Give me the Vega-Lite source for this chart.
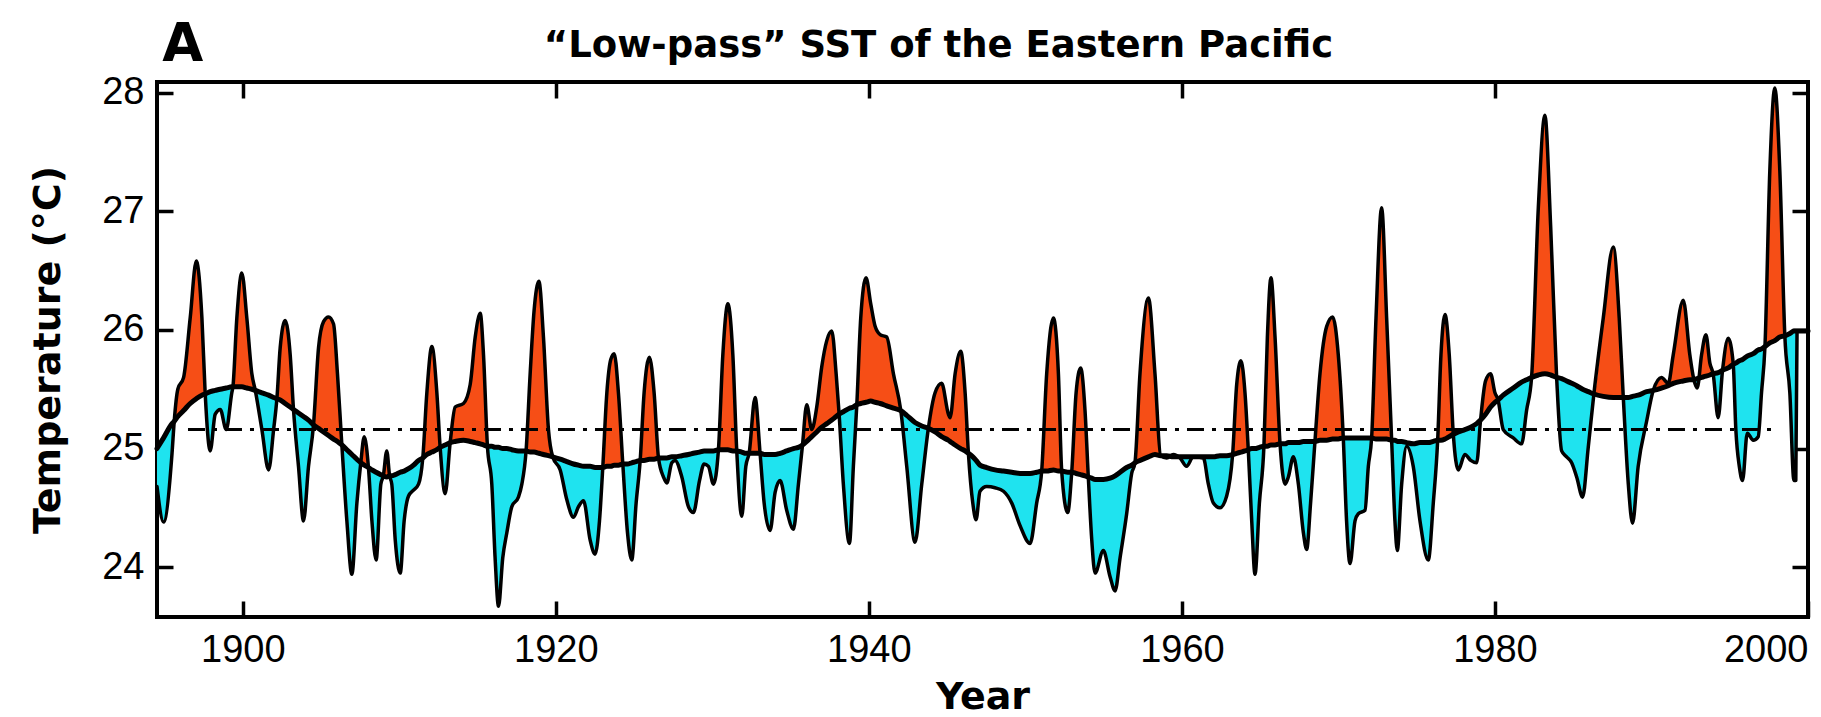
{
  "$schema": "https://vega.github.io/schema/vega-lite/v6.json",
  "width": 1651,
  "height": 535,
  "autosize": {"type": "none"},
  "padding": {"left": 157, "top": 82, "right": 13, "bottom": 100},
  "background": "white",
  "config": {
    "view": {"stroke": "black", "strokeWidth": 4},
    "font": "Liberation Sans"
  },
  "title": {
    "text": "“Low-pass” SST of the Eastern Pacific",
    "font": "DejaVu Sans",
    "fontSize": 37,
    "fontWeight": "bold",
    "color": "black",
    "anchor": "middle",
    "dx": -44,
    "baseline": "alphabetic",
    "offset": -75
  },
  "datasets": {
    "sst": [
      {"year": 1894.52, "sst": 24.68, "lowpass": 25.00},
      {"year": 1894.94, "sst": 24.38, "lowpass": 25.09},
      {"year": 1895.48, "sst": 24.96, "lowpass": 25.21},
      {"year": 1895.62, "sst": 25.23, "lowpass": 25.23},
      {"year": 1895.85, "sst": 25.50, "lowpass": 25.27},
      {"year": 1896.22, "sst": 25.60, "lowpass": 25.32},
      {"year": 1896.64, "sst": 26.10, "lowpass": 25.38},
      {"year": 1897.03, "sst": 26.58, "lowpass": 25.42},
      {"year": 1897.39, "sst": 26.10, "lowpass": 25.45},
      {"year": 1897.60, "sst": 25.46, "lowpass": 25.46},
      {"year": 1897.92, "sst": 24.98, "lowpass": 25.48},
      {"year": 1898.24, "sst": 25.29, "lowpass": 25.49},
      {"year": 1898.56, "sst": 25.33, "lowpass": 25.50},
      {"year": 1898.94, "sst": 25.16, "lowpass": 25.51},
      {"year": 1899.30, "sst": 25.47, "lowpass": 25.52},
      {"year": 1899.37, "sst": 25.52, "lowpass": 25.52},
      {"year": 1899.62, "sst": 26.10, "lowpass": 25.52},
      {"year": 1899.94, "sst": 26.48, "lowpass": 25.52},
      {"year": 1900.26, "sst": 26.10, "lowpass": 25.51},
      {"year": 1900.58, "sst": 25.63, "lowpass": 25.50},
      {"year": 1900.80, "sst": 25.49, "lowpass": 25.49},
      {"year": 1901.22, "sst": 25.16, "lowpass": 25.47},
      {"year": 1901.65, "sst": 24.82, "lowpass": 25.45},
      {"year": 1901.97, "sst": 25.16, "lowpass": 25.43},
      {"year": 1902.18, "sst": 25.42, "lowpass": 25.42},
      {"year": 1902.39, "sst": 25.85, "lowpass": 25.41},
      {"year": 1902.71, "sst": 26.08, "lowpass": 25.38},
      {"year": 1903.03, "sst": 25.79, "lowpass": 25.35},
      {"year": 1903.24, "sst": 25.33, "lowpass": 25.33},
      {"year": 1903.56, "sst": 24.85, "lowpass": 25.30},
      {"year": 1903.88, "sst": 24.39, "lowpass": 25.27},
      {"year": 1904.20, "sst": 24.85, "lowpass": 25.24},
      {"year": 1904.52, "sst": 25.20, "lowpass": 25.20},
      {"year": 1904.84, "sst": 25.85, "lowpass": 25.17},
      {"year": 1905.16, "sst": 26.07, "lowpass": 25.14},
      {"year": 1905.48, "sst": 26.11, "lowpass": 25.11},
      {"year": 1905.80, "sst": 26.05, "lowpass": 25.08},
      {"year": 1906.05, "sst": 25.63, "lowpass": 25.06},
      {"year": 1906.33, "sst": 25.03, "lowpass": 25.03},
      {"year": 1906.65, "sst": 24.39, "lowpass": 24.99},
      {"year": 1906.97, "sst": 23.94, "lowpass": 24.95},
      {"year": 1907.29, "sst": 24.54, "lowpass": 24.91},
      {"year": 1907.54, "sst": 24.88, "lowpass": 24.88},
      {"year": 1907.76, "sst": 25.10, "lowpass": 24.86},
      {"year": 1908.03, "sst": 24.84, "lowpass": 24.84},
      {"year": 1908.25, "sst": 24.39, "lowpass": 24.82},
      {"year": 1908.52, "sst": 24.06, "lowpass": 24.80},
      {"year": 1908.82, "sst": 24.70, "lowpass": 24.78},
      {"year": 1908.98, "sst": 24.77, "lowpass": 24.77},
      {"year": 1909.20, "sst": 24.98, "lowpass": 24.76},
      {"year": 1909.38, "sst": 24.77, "lowpass": 24.77},
      {"year": 1909.52, "sst": 24.70, "lowpass": 24.77},
      {"year": 1909.74, "sst": 24.23, "lowpass": 24.78},
      {"year": 1910.06, "sst": 23.95, "lowpass": 24.80},
      {"year": 1910.31, "sst": 24.39, "lowpass": 24.81},
      {"year": 1910.59, "sst": 24.60, "lowpass": 24.83},
      {"year": 1910.91, "sst": 24.65, "lowpass": 24.86},
      {"year": 1911.23, "sst": 24.70, "lowpass": 24.90},
      {"year": 1911.50, "sst": 24.92, "lowpass": 24.92},
      {"year": 1911.76, "sst": 25.47, "lowpass": 24.95},
      {"year": 1912.08, "sst": 25.86, "lowpass": 24.97},
      {"year": 1912.40, "sst": 25.47, "lowpass": 24.99},
      {"year": 1912.61, "sst": 25.01, "lowpass": 25.01},
      {"year": 1912.93, "sst": 24.62, "lowpass": 25.03},
      {"year": 1913.25, "sst": 25.05, "lowpass": 25.05},
      {"year": 1913.57, "sst": 25.35, "lowpass": 25.06},
      {"year": 1914.10, "sst": 25.38, "lowpass": 25.07},
      {"year": 1914.53, "sst": 25.54, "lowpass": 25.06},
      {"year": 1914.85, "sst": 25.94, "lowpass": 25.05},
      {"year": 1915.17, "sst": 26.14, "lowpass": 25.04},
      {"year": 1915.38, "sst": 25.79, "lowpass": 25.03},
      {"year": 1915.63, "sst": 25.02, "lowpass": 25.02},
      {"year": 1915.91, "sst": 24.70, "lowpass": 25.02},
      {"year": 1916.12, "sst": 24.08, "lowpass": 25.01},
      {"year": 1916.34, "sst": 23.67, "lowpass": 25.01},
      {"year": 1916.61, "sst": 24.08, "lowpass": 25.00},
      {"year": 1916.87, "sst": 24.29, "lowpass": 25.00},
      {"year": 1917.19, "sst": 24.51, "lowpass": 24.99},
      {"year": 1917.61, "sst": 24.59, "lowpass": 24.98},
      {"year": 1917.83, "sst": 24.70, "lowpass": 24.98},
      {"year": 1918.10, "sst": 24.98, "lowpass": 24.98},
      {"year": 1918.36, "sst": 25.63, "lowpass": 24.97},
      {"year": 1918.61, "sst": 26.16, "lowpass": 24.97},
      {"year": 1918.92, "sst": 26.41, "lowpass": 24.96},
      {"year": 1919.21, "sst": 25.94, "lowpass": 24.95},
      {"year": 1919.53, "sst": 25.16, "lowpass": 24.94},
      {"year": 1919.80, "sst": 24.93, "lowpass": 24.93},
      {"year": 1920.28, "sst": 24.82, "lowpass": 24.91},
      {"year": 1920.70, "sst": 24.57, "lowpass": 24.89},
      {"year": 1921.13, "sst": 24.42, "lowpass": 24.87},
      {"year": 1921.45, "sst": 24.51, "lowpass": 24.86},
      {"year": 1921.77, "sst": 24.56, "lowpass": 24.85},
      {"year": 1922.19, "sst": 24.23, "lowpass": 24.85},
      {"year": 1922.51, "sst": 24.11, "lowpass": 24.84},
      {"year": 1922.79, "sst": 24.39, "lowpass": 24.84},
      {"year": 1923.00, "sst": 24.84, "lowpass": 24.84},
      {"year": 1923.26, "sst": 25.47, "lowpass": 24.85},
      {"year": 1923.51, "sst": 25.75, "lowpass": 24.85},
      {"year": 1923.73, "sst": 25.80, "lowpass": 24.86},
      {"year": 1924.00, "sst": 25.47, "lowpass": 24.86},
      {"year": 1924.28, "sst": 24.87, "lowpass": 24.87},
      {"year": 1924.58, "sst": 24.29, "lowpass": 24.87},
      {"year": 1924.85, "sst": 24.06, "lowpass": 24.88},
      {"year": 1925.13, "sst": 24.54, "lowpass": 24.89},
      {"year": 1925.39, "sst": 24.90, "lowpass": 24.90},
      {"year": 1925.64, "sst": 25.47, "lowpass": 24.90},
      {"year": 1925.98, "sst": 25.77, "lowpass": 24.91},
      {"year": 1926.28, "sst": 25.47, "lowpass": 24.91},
      {"year": 1926.56, "sst": 24.92, "lowpass": 24.92},
      {"year": 1926.88, "sst": 24.76, "lowpass": 24.92},
      {"year": 1927.09, "sst": 24.71, "lowpass": 24.92},
      {"year": 1927.41, "sst": 24.88, "lowpass": 24.93},
      {"year": 1927.62, "sst": 24.90, "lowpass": 24.93},
      {"year": 1928.05, "sst": 24.76, "lowpass": 24.94},
      {"year": 1928.47, "sst": 24.51, "lowpass": 24.95},
      {"year": 1928.79, "sst": 24.46, "lowpass": 24.96},
      {"year": 1929.18, "sst": 24.73, "lowpass": 24.97},
      {"year": 1929.47, "sst": 24.87, "lowpass": 24.98},
      {"year": 1929.75, "sst": 24.85, "lowpass": 24.98},
      {"year": 1930.07, "sst": 24.70, "lowpass": 24.98},
      {"year": 1930.39, "sst": 24.99, "lowpass": 24.99},
      {"year": 1930.67, "sst": 25.79, "lowpass": 24.99},
      {"year": 1930.99, "sst": 26.22, "lowpass": 24.99},
      {"year": 1931.31, "sst": 25.79, "lowpass": 24.98},
      {"year": 1931.56, "sst": 24.98, "lowpass": 24.98},
      {"year": 1931.88, "sst": 24.43, "lowpass": 24.97},
      {"year": 1932.14, "sst": 24.85, "lowpass": 24.96},
      {"year": 1932.35, "sst": 24.96, "lowpass": 24.96},
      {"year": 1932.73, "sst": 25.43, "lowpass": 24.96},
      {"year": 1933.05, "sst": 24.96, "lowpass": 24.96},
      {"year": 1933.31, "sst": 24.54, "lowpass": 24.95},
      {"year": 1933.69, "sst": 24.31, "lowpass": 24.95},
      {"year": 1934.01, "sst": 24.63, "lowpass": 24.95},
      {"year": 1934.33, "sst": 24.73, "lowpass": 24.96},
      {"year": 1934.75, "sst": 24.48, "lowpass": 24.98},
      {"year": 1935.18, "sst": 24.32, "lowpass": 25.00},
      {"year": 1935.50, "sst": 24.70, "lowpass": 25.01},
      {"year": 1935.76, "sst": 25.03, "lowpass": 25.03},
      {"year": 1936.03, "sst": 25.37, "lowpass": 25.06},
      {"year": 1936.35, "sst": 25.16, "lowpass": 25.10},
      {"year": 1936.67, "sst": 25.35, "lowpass": 25.14},
      {"year": 1936.99, "sst": 25.69, "lowpass": 25.18},
      {"year": 1937.31, "sst": 25.91, "lowpass": 25.21},
      {"year": 1937.63, "sst": 25.99, "lowpass": 25.24},
      {"year": 1937.91, "sst": 25.63, "lowpass": 25.27},
      {"year": 1938.10, "sst": 25.29, "lowpass": 25.29},
      {"year": 1938.37, "sst": 24.70, "lowpass": 25.31},
      {"year": 1938.76, "sst": 24.20, "lowpass": 25.34},
      {"year": 1939.01, "sst": 24.85, "lowpass": 25.35},
      {"year": 1939.23, "sst": 25.37, "lowpass": 25.37},
      {"year": 1939.48, "sst": 26.10, "lowpass": 25.38},
      {"year": 1939.82, "sst": 26.44, "lowpass": 25.39},
      {"year": 1940.12, "sst": 26.22, "lowpass": 25.40},
      {"year": 1940.40, "sst": 26.03, "lowpass": 25.39},
      {"year": 1940.72, "sst": 25.96, "lowpass": 25.38},
      {"year": 1941.14, "sst": 25.94, "lowpass": 25.36},
      {"year": 1941.57, "sst": 25.63, "lowpass": 25.34},
      {"year": 1942.04, "sst": 25.32, "lowpass": 25.32},
      {"year": 1942.42, "sst": 24.85, "lowpass": 25.28},
      {"year": 1942.95, "sst": 24.21, "lowpass": 25.22},
      {"year": 1943.38, "sst": 24.70, "lowpass": 25.19},
      {"year": 1943.80, "sst": 25.17, "lowpass": 25.17},
      {"year": 1944.23, "sst": 25.47, "lowpass": 25.14},
      {"year": 1944.65, "sst": 25.55, "lowpass": 25.10},
      {"year": 1945.08, "sst": 25.29, "lowpass": 25.07},
      {"year": 1945.19, "sst": 25.26, "lowpass": 25.06},
      {"year": 1945.51, "sst": 25.63, "lowpass": 25.03},
      {"year": 1945.87, "sst": 25.82, "lowpass": 25.00},
      {"year": 1946.15, "sst": 25.47, "lowpass": 24.98},
      {"year": 1946.36, "sst": 24.96, "lowpass": 24.96},
      {"year": 1946.64, "sst": 24.54, "lowpass": 24.93},
      {"year": 1946.85, "sst": 24.40, "lowpass": 24.90},
      {"year": 1947.10, "sst": 24.64, "lowpass": 24.86},
      {"year": 1947.53, "sst": 24.68, "lowpass": 24.84},
      {"year": 1948.06, "sst": 24.67, "lowpass": 24.82},
      {"year": 1948.60, "sst": 24.64, "lowpass": 24.81},
      {"year": 1949.13, "sst": 24.54, "lowpass": 24.80},
      {"year": 1949.66, "sst": 24.35, "lowpass": 24.79},
      {"year": 1950.30, "sst": 24.20, "lowpass": 24.79},
      {"year": 1950.72, "sst": 24.54, "lowpass": 24.80},
      {"year": 1951.04, "sst": 24.81, "lowpass": 24.81},
      {"year": 1951.36, "sst": 25.63, "lowpass": 24.81},
      {"year": 1951.79, "sst": 26.10, "lowpass": 24.82},
      {"year": 1952.11, "sst": 25.63, "lowpass": 24.81},
      {"year": 1952.32, "sst": 24.81, "lowpass": 24.81},
      {"year": 1952.70, "sst": 24.46, "lowpass": 24.80},
      {"year": 1952.96, "sst": 24.80, "lowpass": 24.80},
      {"year": 1953.24, "sst": 25.47, "lowpass": 24.79},
      {"year": 1953.53, "sst": 25.68, "lowpass": 24.78},
      {"year": 1953.81, "sst": 25.32, "lowpass": 24.77},
      {"year": 1954.02, "sst": 24.76, "lowpass": 24.76},
      {"year": 1954.24, "sst": 24.23, "lowpass": 24.75},
      {"year": 1954.45, "sst": 23.95, "lowpass": 24.74},
      {"year": 1954.98, "sst": 24.14, "lowpass": 24.74},
      {"year": 1955.41, "sst": 23.92, "lowpass": 24.75},
      {"year": 1955.73, "sst": 23.80, "lowpass": 24.77},
      {"year": 1956.05, "sst": 24.08, "lowpass": 24.80},
      {"year": 1956.47, "sst": 24.45, "lowpass": 24.84},
      {"year": 1956.79, "sst": 24.79, "lowpass": 24.86},
      {"year": 1957.00, "sst": 24.88, "lowpass": 24.88},
      {"year": 1957.32, "sst": 25.63, "lowpass": 24.90},
      {"year": 1957.86, "sst": 26.27, "lowpass": 24.93},
      {"year": 1958.28, "sst": 25.63, "lowpass": 24.95},
      {"year": 1958.64, "sst": 24.94, "lowpass": 24.94},
      {"year": 1959.03, "sst": 24.92, "lowpass": 24.94},
      {"year": 1959.45, "sst": 24.95, "lowpass": 24.93},
      {"year": 1959.88, "sst": 24.92, "lowpass": 24.93},
      {"year": 1960.30, "sst": 24.85, "lowpass": 24.93},
      {"year": 1960.73, "sst": 24.93, "lowpass": 24.93},
      {"year": 1961.37, "sst": 24.92, "lowpass": 24.93},
      {"year": 1961.69, "sst": 24.70, "lowpass": 24.93},
      {"year": 1962.01, "sst": 24.54, "lowpass": 24.93},
      {"year": 1962.43, "sst": 24.50, "lowpass": 24.94},
      {"year": 1962.86, "sst": 24.60, "lowpass": 24.94},
      {"year": 1963.24, "sst": 24.95, "lowpass": 24.95},
      {"year": 1963.50, "sst": 25.54, "lowpass": 24.96},
      {"year": 1963.77, "sst": 25.74, "lowpass": 24.97},
      {"year": 1964.03, "sst": 25.47, "lowpass": 24.98},
      {"year": 1964.24, "sst": 24.99, "lowpass": 24.99},
      {"year": 1964.46, "sst": 24.39, "lowpass": 25.00},
      {"year": 1964.67, "sst": 23.94, "lowpass": 25.00},
      {"year": 1964.95, "sst": 24.54, "lowpass": 25.01},
      {"year": 1965.24, "sst": 25.02, "lowpass": 25.02},
      {"year": 1965.46, "sst": 25.94, "lowpass": 25.02},
      {"year": 1965.69, "sst": 26.44, "lowpass": 25.03},
      {"year": 1965.95, "sst": 25.94, "lowpass": 25.03},
      {"year": 1966.27, "sst": 25.04, "lowpass": 25.04},
      {"year": 1966.59, "sst": 24.70, "lowpass": 25.04},
      {"year": 1966.80, "sst": 24.76, "lowpass": 25.05},
      {"year": 1967.12, "sst": 24.93, "lowpass": 25.05},
      {"year": 1967.44, "sst": 24.70, "lowpass": 25.05},
      {"year": 1967.76, "sst": 24.29, "lowpass": 25.06},
      {"year": 1967.97, "sst": 24.15, "lowpass": 25.06},
      {"year": 1968.22, "sst": 24.54, "lowpass": 25.06},
      {"year": 1968.50, "sst": 25.06, "lowpass": 25.06},
      {"year": 1968.82, "sst": 25.63, "lowpass": 25.07},
      {"year": 1969.25, "sst": 26.03, "lowpass": 25.07},
      {"year": 1969.63, "sst": 26.11, "lowpass": 25.08},
      {"year": 1969.99, "sst": 25.79, "lowpass": 25.08},
      {"year": 1970.31, "sst": 25.09, "lowpass": 25.09},
      {"year": 1970.52, "sst": 24.39, "lowpass": 25.09},
      {"year": 1970.74, "sst": 24.03, "lowpass": 25.09},
      {"year": 1971.06, "sst": 24.39, "lowpass": 25.09},
      {"year": 1971.27, "sst": 24.45, "lowpass": 25.09},
      {"year": 1971.70, "sst": 24.48, "lowpass": 25.09},
      {"year": 1971.91, "sst": 24.85, "lowpass": 25.09},
      {"year": 1972.12, "sst": 25.09, "lowpass": 25.09},
      {"year": 1972.40, "sst": 26.10, "lowpass": 25.08},
      {"year": 1972.76, "sst": 27.03, "lowpass": 25.08},
      {"year": 1973.08, "sst": 26.10, "lowpass": 25.08},
      {"year": 1973.40, "sst": 25.07, "lowpass": 25.07},
      {"year": 1973.61, "sst": 24.39, "lowpass": 25.07},
      {"year": 1973.76, "sst": 24.14, "lowpass": 25.06},
      {"year": 1974.04, "sst": 24.70, "lowpass": 25.06},
      {"year": 1974.36, "sst": 25.02, "lowpass": 25.05},
      {"year": 1974.78, "sst": 24.85, "lowpass": 25.04},
      {"year": 1975.21, "sst": 24.39, "lowpass": 25.05},
      {"year": 1975.74, "sst": 24.06, "lowpass": 25.05},
      {"year": 1976.06, "sst": 24.54, "lowpass": 25.06},
      {"year": 1976.34, "sst": 25.07, "lowpass": 25.07},
      {"year": 1976.55, "sst": 25.79, "lowpass": 25.07},
      {"year": 1976.81, "sst": 26.13, "lowpass": 25.08},
      {"year": 1977.08, "sst": 25.79, "lowpass": 25.10},
      {"year": 1977.34, "sst": 25.12, "lowpass": 25.12},
      {"year": 1977.66, "sst": 24.82, "lowpass": 25.14},
      {"year": 1978.08, "sst": 24.95, "lowpass": 25.16},
      {"year": 1978.45, "sst": 24.90, "lowpass": 25.18},
      {"year": 1978.83, "sst": 24.88, "lowpass": 25.21},
      {"year": 1979.08, "sst": 25.24, "lowpass": 25.24},
      {"year": 1979.40, "sst": 25.57, "lowpass": 25.29},
      {"year": 1979.72, "sst": 25.63, "lowpass": 25.35},
      {"year": 1980.00, "sst": 25.47, "lowpass": 25.39},
      {"year": 1980.20, "sst": 25.41, "lowpass": 25.41},
      {"year": 1980.53, "sst": 25.16, "lowpass": 25.45},
      {"year": 1981.17, "sst": 25.09, "lowpass": 25.51},
      {"year": 1981.70, "sst": 25.04, "lowpass": 25.56},
      {"year": 1982.02, "sst": 25.32, "lowpass": 25.58},
      {"year": 1982.34, "sst": 25.60, "lowpass": 25.60},
      {"year": 1982.77, "sst": 27.03, "lowpass": 25.62},
      {"year": 1983.19, "sst": 27.81, "lowpass": 25.63},
      {"year": 1983.56, "sst": 26.87, "lowpass": 25.62},
      {"year": 1983.94, "sst": 25.60, "lowpass": 25.60},
      {"year": 1984.26, "sst": 24.98, "lowpass": 25.59},
      {"year": 1984.58, "sst": 24.93, "lowpass": 25.57},
      {"year": 1984.90, "sst": 24.88, "lowpass": 25.55},
      {"year": 1985.22, "sst": 24.76, "lowpass": 25.53},
      {"year": 1985.60, "sst": 24.59, "lowpass": 25.50},
      {"year": 1985.96, "sst": 25.01, "lowpass": 25.48},
      {"year": 1986.32, "sst": 25.46, "lowpass": 25.46},
      {"year": 1986.92, "sst": 26.10, "lowpass": 25.44},
      {"year": 1987.56, "sst": 26.70, "lowpass": 25.43},
      {"year": 1987.94, "sst": 26.10, "lowpass": 25.43},
      {"year": 1988.20, "sst": 25.43, "lowpass": 25.43},
      {"year": 1988.52, "sst": 24.70, "lowpass": 25.43},
      {"year": 1988.79, "sst": 24.37, "lowpass": 25.44},
      {"year": 1989.15, "sst": 24.85, "lowpass": 25.45},
      {"year": 1989.69, "sst": 25.23, "lowpass": 25.48},
      {"year": 1990.11, "sst": 25.49, "lowpass": 25.49},
      {"year": 1990.64, "sst": 25.60, "lowpass": 25.51},
      {"year": 1991.07, "sst": 25.55, "lowpass": 25.53},
      {"year": 1991.39, "sst": 25.79, "lowpass": 25.55},
      {"year": 1992.03, "sst": 26.25, "lowpass": 25.57},
      {"year": 1992.45, "sst": 25.79, "lowpass": 25.58},
      {"year": 1992.71, "sst": 25.58, "lowpass": 25.58},
      {"year": 1992.92, "sst": 25.51, "lowpass": 25.59},
      {"year": 1993.20, "sst": 25.79, "lowpass": 25.60},
      {"year": 1993.48, "sst": 25.96, "lowpass": 25.61},
      {"year": 1993.73, "sst": 25.72, "lowpass": 25.62},
      {"year": 1993.94, "sst": 25.63, "lowpass": 25.63},
      {"year": 1994.26, "sst": 25.26, "lowpass": 25.64},
      {"year": 1994.54, "sst": 25.66, "lowpass": 25.66},
      {"year": 1994.90, "sst": 25.93, "lowpass": 25.68},
      {"year": 1995.22, "sst": 25.72, "lowpass": 25.71},
      {"year": 1995.39, "sst": 25.16, "lowpass": 25.72},
      {"year": 1995.61, "sst": 24.85, "lowpass": 25.74},
      {"year": 1995.82, "sst": 24.73, "lowpass": 25.75},
      {"year": 1996.12, "sst": 25.13, "lowpass": 25.78},
      {"year": 1996.50, "sst": 25.07, "lowpass": 25.80},
      {"year": 1996.82, "sst": 25.10, "lowpass": 25.83},
      {"year": 1997.03, "sst": 25.47, "lowpass": 25.84},
      {"year": 1997.25, "sst": 25.86, "lowpass": 25.86},
      {"year": 1997.56, "sst": 27.34, "lowpass": 25.89},
      {"year": 1997.88, "sst": 28.04, "lowpass": 25.91},
      {"year": 1998.20, "sst": 27.34, "lowpass": 25.94},
      {"year": 1998.52, "sst": 25.95, "lowpass": 25.95},
      {"year": 1998.84, "sst": 25.47, "lowpass": 25.97},
      {"year": 1999.10, "sst": 24.73, "lowpass": 25.99},
      {"year": 1999.22, "sst": 24.73, "lowpass": 25.99},
      {"year": 1999.30, "sst": 25.99, "lowpass": 25.99},
      {"year": 2000.00, "sst": null, "lowpass": 25.99}
    ]
  },
  "data": {"name": "sst"},
  "resolve": {"axis": {"x": "independent", "y": "independent"}},
  "layer": [
    {
      "transform": [
        {"fold": ["sst", "lowpass"], "as": ["series", "value"]},
        {"joinaggregate": [{"op": "max", "field": "value", "as": "upper"}, {"op": "min", "field": "value", "as": "lower"}], "groupby": ["year"]},
        {"filter": {"field": "series", "equal": "lowpass"}}
      ],
      "mark": {"type": "area", "color": "#1FE3EF", "interpolate": "monotone"},
      "encoding": {
        "x": {
          "field": "year", "type": "quantitative",
          "scale": {"domain": [1894.52, 2000], "nice": false, "zero": false},
          "axis": {
            "orient": "bottom", "values": [1900, 1920, 1940, 1960, 1980, 2000], "format": "d",
            "title": "Year", "domain": false, "grid": false, "offset": -16, "tickSize": 16,
            "tickWidth": 3.5, "tickColor": "black", "labelFont": "Liberation Sans", "labelFontSize": 38,
            "labelColor": "black", "labelPadding": 14, "labelFlush": 1,
            "titleFont": "DejaVu Sans", "titleFontSize": 38, "titleFontWeight": "bold", "titleColor": "black", "titlePadding": 9
          }
        },
        "y": {
          "field": "lower", "type": "quantitative",
          "scale": {"domain": [23.58, 28.09], "nice": false, "zero": false},
          "axis": {
            "orient": "left", "values": [24, 25, 26, 27, 28], "format": "d",
            "title": "Temperature (°C)", "domain": false, "grid": false, "offset": -16, "tickSize": 16,
            "tickWidth": 3.5, "tickColor": "black", "labelFont": "Liberation Sans", "labelFontSize": 38,
            "labelColor": "black", "labelPadding": 13,
            "titleFont": "DejaVu Sans", "titleFontSize": 38, "titleFontWeight": "bold", "titleColor": "black", "titlePadding": 34
          }
        },
        "y2": {"field": "value"}
      }
    },
    {
      "transform": [
        {"fold": ["sst", "lowpass"], "as": ["series", "value"]},
        {"joinaggregate": [{"op": "max", "field": "value", "as": "upper"}, {"op": "min", "field": "value", "as": "lower"}], "groupby": ["year"]},
        {"filter": {"field": "series", "equal": "lowpass"}}
      ],
      "mark": {"type": "area", "color": "#F64E16", "interpolate": "monotone"},
      "encoding": {
        "x": {"field": "year", "type": "quantitative", "axis": null},
        "y": {"field": "upper", "type": "quantitative", "axis": null},
        "y2": {"field": "value"}
      }
    },
    {
      "data": {"values": [{}]},
      "mark": {"type": "rule", "color": "black", "strokeWidth": 3, "strokeDash": [17, 8, 4, 8]},
      "encoding": {
        "x": {"datum": 1896.5, "type": "quantitative", "axis": null},
        "x2": {"datum": 1998.0},
        "y": {"datum": 25.16, "type": "quantitative", "axis": null}
      }
    },
    {
      "mark": {"type": "line", "color": "black", "strokeWidth": 3.5, "strokeJoin": "round", "strokeCap": "round", "interpolate": "monotone"},
      "encoding": {
        "x": {"field": "year", "type": "quantitative", "axis": null},
        "y": {"field": "sst", "type": "quantitative", "axis": null}
      }
    },
    {
      "mark": {"type": "line", "color": "black", "strokeWidth": 5, "strokeJoin": "round", "strokeCap": "round", "interpolate": "monotone"},
      "encoding": {
        "x": {
          "field": "year", "type": "quantitative",
          "axis": {"orient": "top", "values": [1900, 1920, 1940, 1960, 1980], "labels": false, "title": null, "domain": false, "grid": false, "offset": -16, "tickSize": 16, "tickWidth": 3.5, "tickColor": "black"}
        },
        "y": {
          "field": "lowpass", "type": "quantitative",
          "axis": {"orient": "right", "values": [24, 25, 26, 27, 28], "labels": false, "title": null, "domain": false, "grid": false, "offset": -16, "tickSize": 16, "tickWidth": 3.5, "tickColor": "black"}
        }
      }
    },
    {
      "data": {"values": [{}]},
      "mark": {"type": "text", "text": "A", "font": "DejaVu Sans", "fontWeight": "bold", "fontSize": 53, "align": "left", "baseline": "alphabetic", "color": "black"},
      "encoding": {
        "x": {"datum": 1894.86, "type": "quantitative", "axis": null},
        "y": {"datum": 28.264, "type": "quantitative", "axis": null}
      }
    }
  ]
}
